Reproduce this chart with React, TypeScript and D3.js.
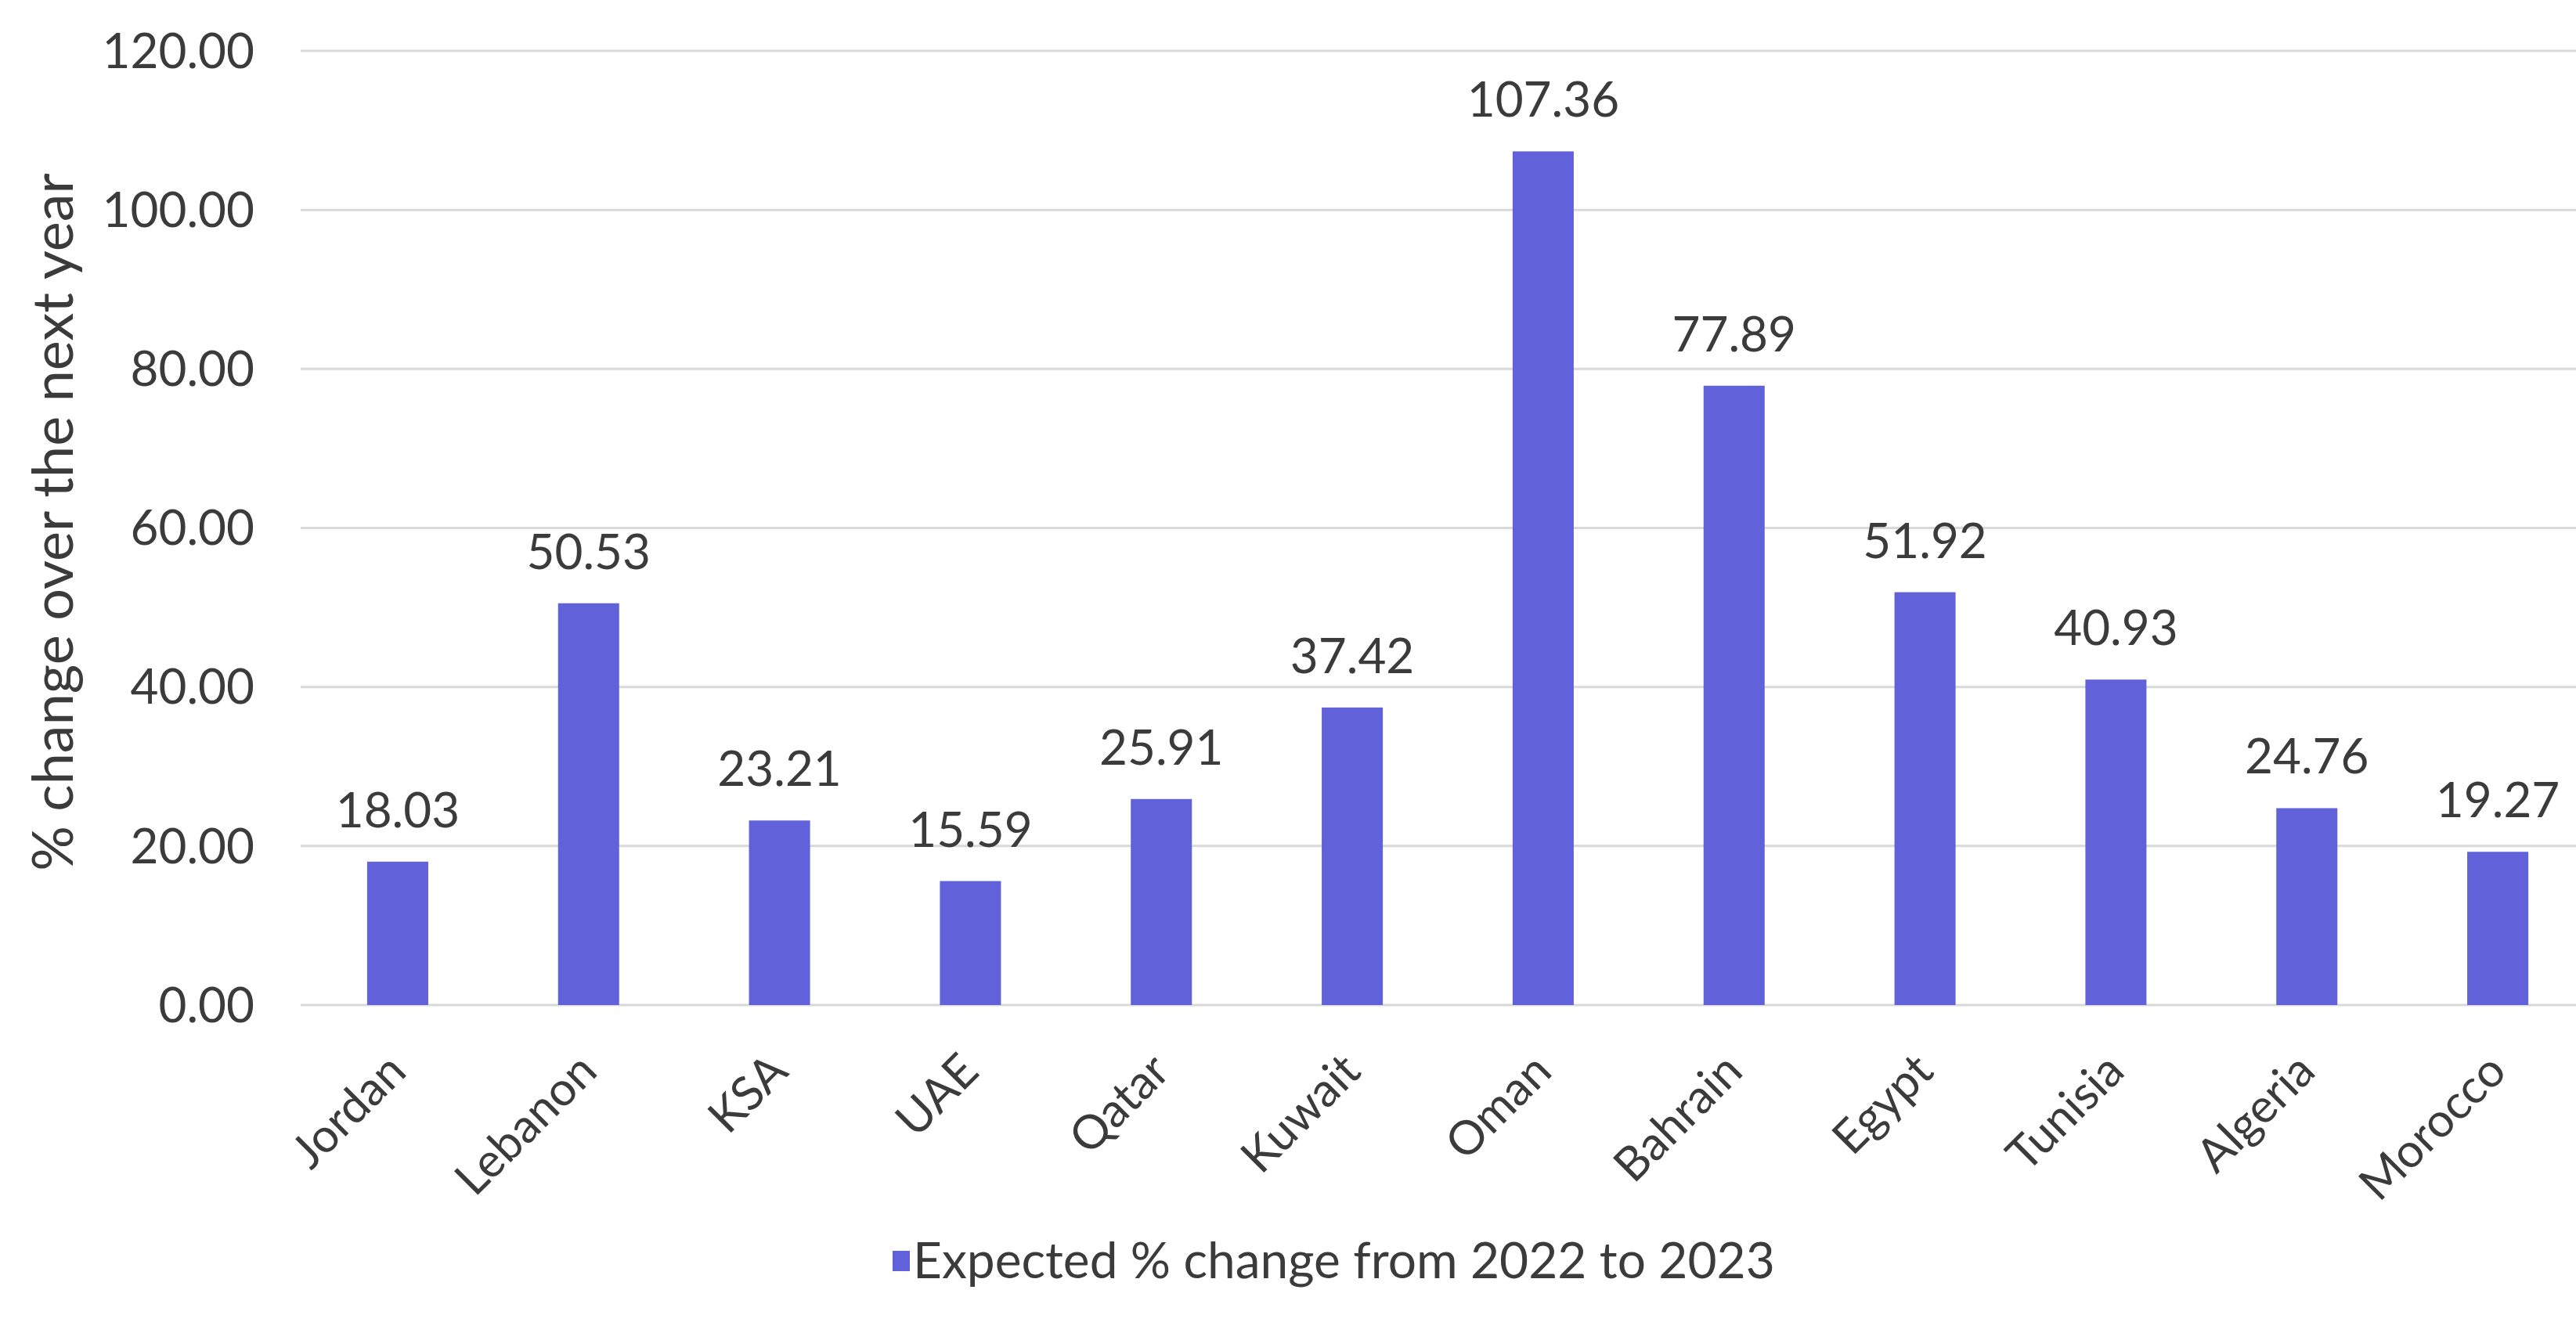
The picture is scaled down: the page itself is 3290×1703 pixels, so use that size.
import React from "react";
import * as d3 from "d3";

const countries = ["Jordan", "Lebanon", "KSA", "UAE", "Qatar", "Kuwait", "Oman", "Bahrain", "Egypt", "Tunisia", "Algeria", "Morocco"];
const values = [18.03, 50.53, 23.21, 15.59, 25.91, 37.42, 107.36, 77.89, 51.92, 40.93, 24.76, 19.27];
const yTicks = [0, 20, 40, 60, 80, 100, 120];
const seriesName = "Expected % change from 2022 to 2023";
const yTitle = "% change over the next year";

const W = 3290;
const H = 1703;
const FONT = "Lato, 'Open Sans', sans-serif";
const TEXT = "#3b3b3b";
const BAR = "#6161d9";
const GRID = "#d9d9d9";

export default function App() {
  if (typeof document !== "undefined") document.body.style.margin = "0";
  const x = d3.scaleBand<string>().domain(countries).range([386, 3312]).paddingInner(0.68).paddingOuter(0.34);
  const y = d3.scaleLinear().domain([0, 120]).range([1284, 65]);
  const fmt = d3.format(".2f");
  return (
    <svg width={W} height={H} style={{ position: "absolute", left: 0, top: 0, background: "#fff" }} fontFamily={FONT}>
      <rect x={0} y={0} width={W} height={H} fill="#fff" />
      {yTicks.map((t) => (
        <g key={t}>
          <line x1={384} x2={3290} y1={y(t)} y2={y(t)} stroke={GRID} strokeWidth={3} />
          <text x={325} y={y(t)} dy="0.35em" textAnchor="end" fontSize={62} fill={TEXT}>
            {fmt(t)}
          </text>
        </g>
      ))}
      {countries.map((c, i) => (
        <g key={c}>
          <rect x={x(c)} y={y(values[i])} width={x.bandwidth()} height={y(0) - y(values[i])} fill={BAR} />
          <text x={(x(c) as number) + x.bandwidth() / 2} y={y(values[i]) - 44} textAnchor="middle" fontSize={62} fill={TEXT}>
            {fmt(values[i])}
          </text>
          <text
            transform={`translate(${(x(c) as number) + x.bandwidth() / 2 - 16},${y(0) + 58}) rotate(-45)`}
            textAnchor="end"
            dy="0.7em"
            fontSize={60}
            fill={TEXT}
          >
            {c}
          </text>
        </g>
      ))}
      <text transform={`translate(${68},${667}) rotate(-90)`} textAnchor="middle" dy="0.35em" fontSize={72} fill={TEXT}>
        {yTitle}
      </text>
      <rect x={1140} y={1598} width={22} height={26} fill={BAR} />
      <text x={1166} y={1611} dy="0.35em" fontSize={64} fill={TEXT}>
        {seriesName}
      </text>
    </svg>
  );
}
